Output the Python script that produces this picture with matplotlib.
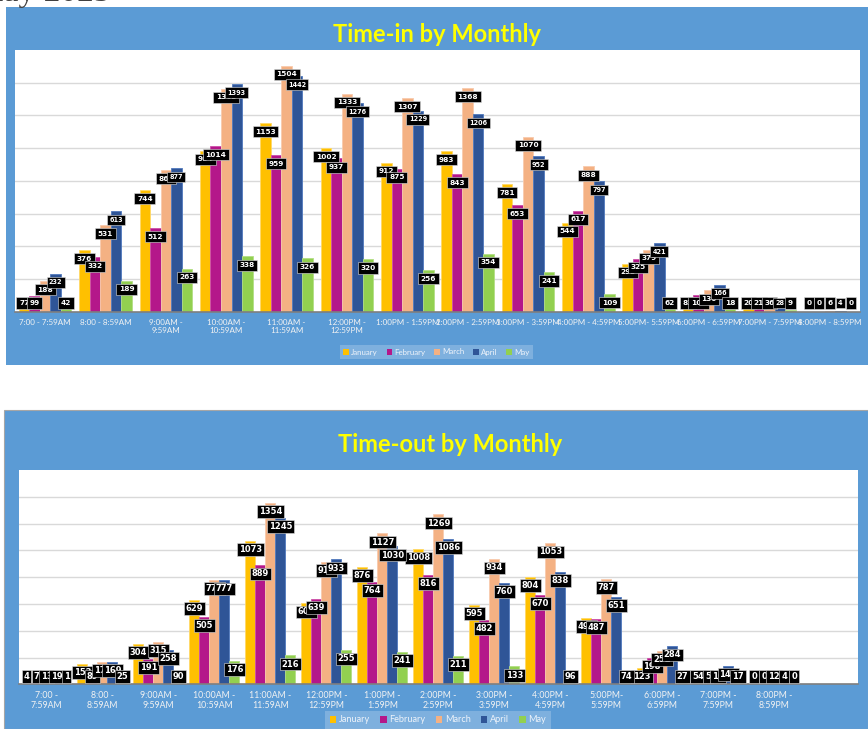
import matplotlib
matplotlib.use('Agg')
import matplotlib.pyplot as plt
from matplotlib.patches import Rectangle, Patch
import numpy as np

# ---------------- data ----------------
months = ['January', 'February', 'March', 'April', 'May']
colors = ['#FFC000', '#B4178A', '#F4B183', '#2F5597', '#92D050']
edge_colors = ['#FFD966', '#CC4FA8', '#F8CBAD', '#5079BD', '#B3DE85']

in_slots = ['7:00 - 7:59AM', '8:00 - 8:59AM', '9:00AM -\n9:59AM', '10:00AM -\n10:59AM',
            '11:00AM -\n11:59AM', '12:00PM -\n12:59PM', '1:00PM - 1:59PM', '2:00PM - 2:59PM',
            '3:00PM - 3:59PM', '4:00PM - 4:59PM', '5:00PM- 5:59PM', '6:00PM - 6:59PM',
            '7:00PM - 7:59PM', '8:00PM - 8:59PM']
out_slots = ['7:00 -\n7:59AM', '8:00 -\n8:59AM', '9:00AM -\n9:59AM', '10:00AM -\n10:59AM',
             '11:00AM -\n11:59AM', '12:00PM -\n12:59PM', '1:00PM -\n1:59PM', '2:00PM -\n2:59PM',
             '3:00PM -\n3:59PM', '4:00PM -\n4:59PM', '5:00PM-\n5:59PM', '6:00PM -\n6:59PM',
             '7:00PM -\n7:59PM', '8:00PM -\n8:59PM']

in_jan = [77, 376, 744, 984, 1153, 1002, 912, 983, 781, 544, 293, 83, 20, 0]
in_feb = [99, 332, 512, 1014, 959, 937, 875, 843, 653, 617, 325, 104, 21, 0]
in_mar = [188, 531, 866, 1363, 1504, 1333, 1307, 1368, 1070, 888, 379, 130, 36, 6]
in_apr = [232, 613, 877, 1393, 1442, 1276, 1229, 1206, 952, 797, 421, 166, 28, 4]
in_may = [42, 189, 263, 338, 326, 320, 256, 354, 241, 109, 62, 18, 9, 0]

out_jan = [4, 152, 304, 629, 1073, 606, 876, 1008, 595, 804, 495, 123, 54, 0]
out_feb = [7, 89, 191, 505, 889, 639, 764, 816, 482, 670, 487, 198, 5, 0]
out_mar = [13, 170, 315, 779, 1354, 915, 1127, 1269, 934, 1053, 787, 252, 16, 12]
out_apr = [19, 169, 258, 777, 1245, 933, 1030, 1086, 760, 838, 651, 284, 140, 4]
out_may = [1, 25, 90, 176, 216, 255, 241, 211, 133, 96, 74, 27, 17, 0]

title_in = 'Time-in by Monthly'
title_out = 'Time-out by Monthly'
header_text = 'May 2025'

# ---------------- figure ----------------
W, H = 868, 729
fig = plt.figure(figsize=(W / 100, H / 100), dpi=100)
fig.patch.set_facecolor('white')

PANEL = '#5B9BD5'


def fx(px):
    return px / W


def fy(py):  # top-down pixel -> figure fraction
    return 1 - py / H


# blue panels
fig.patches.append(Rectangle((fx(6), fy(365.5)), fx(868 - 6), (365.5 - 7) / H,
                             transform=fig.transFigure, facecolor=PANEL, edgecolor='none',
                             zorder=-5))
fig.patches.append(Rectangle((fx(4), fy(729)), fx(868 - 4), (729 - 410) / H,
                             transform=fig.transFigure, facecolor=PANEL, edgecolor='#A6A6A6',
                             linewidth=0.8, zorder=-5))

fig.text(fx(110), fy(1), header_text, ha='right', va='baseline', fontsize=24,
         family='Liberation Serif', color='#404040')


def make_axes(left, top, right, bottom):
    ax = fig.add_axes([fx(left), fy(bottom), fx(right - left), (bottom - top) / H])
    ax.set_zorder(1)
    ax.set_facecolor('white')
    for s in ['left', 'right', 'top']:
        ax.spines[s].set_visible(False)
    ax.spines['bottom'].set_color('#7F7F7F')
    ax.spines['bottom'].set_linewidth(1.2)
    ax.set_ylim(0, 1600)
    ax.set_yticks(np.arange(0, 1600, 200))
    ax.tick_params(axis='y', left=False, labelleft=False)
    ax.grid(axis='y', color='#D9D9D9', linewidth=1.0)
    ax.set_axisbelow(True)
    return ax


def draw_chart(ax, slots, series, nslots, width, tick_fs, tick_pad, lab_fs_list,
               off_px, min_px, pad):
    ax.set_xlim(-0.5, nslots - 0.5)
    x = np.arange(len(slots))
    for i, vals in enumerate(series):
        xs = x + (i - 2) * width
        ax.bar(xs, vals, width=width, color=colors[i], edgecolor=edge_colors[i],
               linewidth=0.6, zorder=2)
    # labels
    y0 = ax.transData.transform((0, 0))[1]
    for i, vals in enumerate(series):
        xs = x + (i - 2) * width
        for xi, v in zip(xs, vals):
            hp = ax.transData.transform((0, v))[1] - y0
            c = max(hp - off_px, min_px)
            ax.annotate(str(v), xy=(xi, 0), xytext=(0, c), textcoords='offset pixels',
                        ha='center', va='center', fontsize=lab_fs_list[i],
                        fontweight='bold', family='DejaVu Sans', color='white',
                        annotation_clip=False, zorder=5,
                        bbox=dict(boxstyle='square,pad=%s' % pad, facecolor='black',
                                  edgecolor='#E0E0E0', linewidth=0.4))
    ax.set_xticks(x)
    ax.set_xticklabels(slots, fontsize=tick_fs, color='#F2F2F2', family='Lato',
                       linespacing=1.15)
    ax.tick_params(axis='x', length=0, pad=tick_pad)


# top chart
ax1 = make_axes(15, 50, 860, 311.7)
draw_chart(ax1, in_slots, [in_jan, in_feb, in_mar, in_apr, in_may], 14, 0.174,
           5.8, 5.0, [5.3, 5.3, 5.3, 4.7, 5.3], 8.7, 8.7, 0.35)
fig.text(fx(437), fy(35), title_in, ha='center', va='center', fontsize=17,
         fontweight='bold', family='Lato', color='#FFFF00')

# bottom chart
ax2 = make_axes(18.5, 470, 858, 684.3)
draw_chart(ax2, out_slots, [out_jan, out_feb, out_mar, out_apr, out_may], 15, 0.179,
           6.3, 4.5, [6.0] * 5, 8.7, 7.6, 0.22)
fig.text(fx(450), fy(444), title_out, ha='center', va='center', fontsize=17,
         fontweight='bold', family='Lato', color='#FFFF00')

# legends
handles = [Patch(facecolor=c, edgecolor='none', label=m) for c, m in zip(colors, months)]
for (cx, cy, fs) in [(436.5, 352, 5.7), (438, 720, 6.6)]:
    leg = fig.legend(handles=handles, loc='center', bbox_to_anchor=(fx(cx), fy(cy)),
                     ncol=5, frameon=True, handlelength=0.7, handleheight=0.7,
                     handletextpad=0.3, columnspacing=1.1, borderpad=0.5,
                     prop={'family': 'Lato', 'size': fs})
    leg.set_zorder(3)
    leg.get_frame().set_facecolor('#FFFFFF')
    leg.get_frame().set_alpha(0.22)
    leg.get_frame().set_edgecolor('none')
    leg.get_frame().set_boxstyle('square', pad=0)
    for t in leg.get_texts():
        t.set_color('#EEF3FA')

fig.savefig('out.png', dpi=100, facecolor='white')
